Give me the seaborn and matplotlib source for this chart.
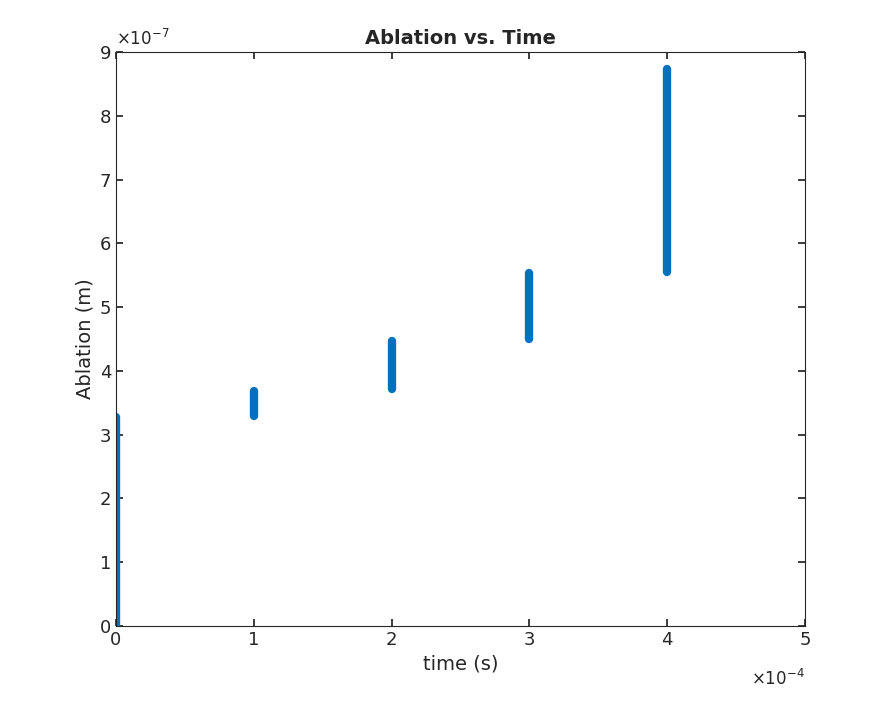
import matplotlib
matplotlib.use("Agg")
import matplotlib.pyplot as plt
import pandas as pd
import seaborn as sns

# segments: time (x1e-4 s), ablation start/end (x1e-7 m)
times = [0, 1, 2, 3, 4]
abl_low = [0.0, 3.30, 3.72, 4.50, 5.55]
abl_high = [3.27, 3.68, 4.47, 5.53, 8.73]

rows = []
for i, (t, lo, hi) in enumerate(zip(times, abl_low, abl_high)):
    rows.append({"seg": i, "time": t * 1e-4, "abl": lo * 1e-7})
    rows.append({"seg": i, "time": t * 1e-4, "abl": hi * 1e-7})
df = pd.DataFrame(rows)

sns.set_theme(style="white")
plt.rcParams["font.family"] = ["DejaVu Sans"]

fig = plt.figure(figsize=(8.91, 7.03), dpi=100)
ax = fig.add_axes([116 / 891, 1 - 626 / 703, (805 - 116) / 891, (626 - 52) / 703])
sns.lineplot(data=df, x="time", y="abl", units="seg", estimator=None,
             color="#0072BD", linewidth=6, solid_capstyle="round", ax=ax, legend=False)

ax.set_xlim(0, 5e-4)
ax.set_ylim(0, 9e-7)
ax.set_xticks([i * 1e-4 for i in range(6)])
ax.set_xticklabels([str(i) for i in range(6)])
ax.set_yticks([i * 1e-7 for i in range(10)])
ax.set_yticklabels([str(i) for i in range(10)])
ax.tick_params(direction="in", length=5, labelsize=13, colors="#262626",
               top=True, right=True, bottom=True, left=True)
for s in ax.spines.values():
    s.set_color("#262626")
    s.set_linewidth(0.8)
ax.set_xlabel("time (s)", fontsize=14, color="#262626")
ax.set_ylabel("Ablation (m)", fontsize=14, color="#262626")
ax.set_title("Ablation vs. Time", fontsize=14, fontweight="bold")
ax.text(0, 1.005, r"$\times10^{-7}$", transform=ax.transAxes, fontsize=12,
        color="#262626", ha="left", va="bottom")
ax.text(1, -0.075, r"$\times10^{-4}$", transform=ax.transAxes, fontsize=12,
        color="#262626", ha="right", va="top")

fig.savefig("out.png", dpi=100)
